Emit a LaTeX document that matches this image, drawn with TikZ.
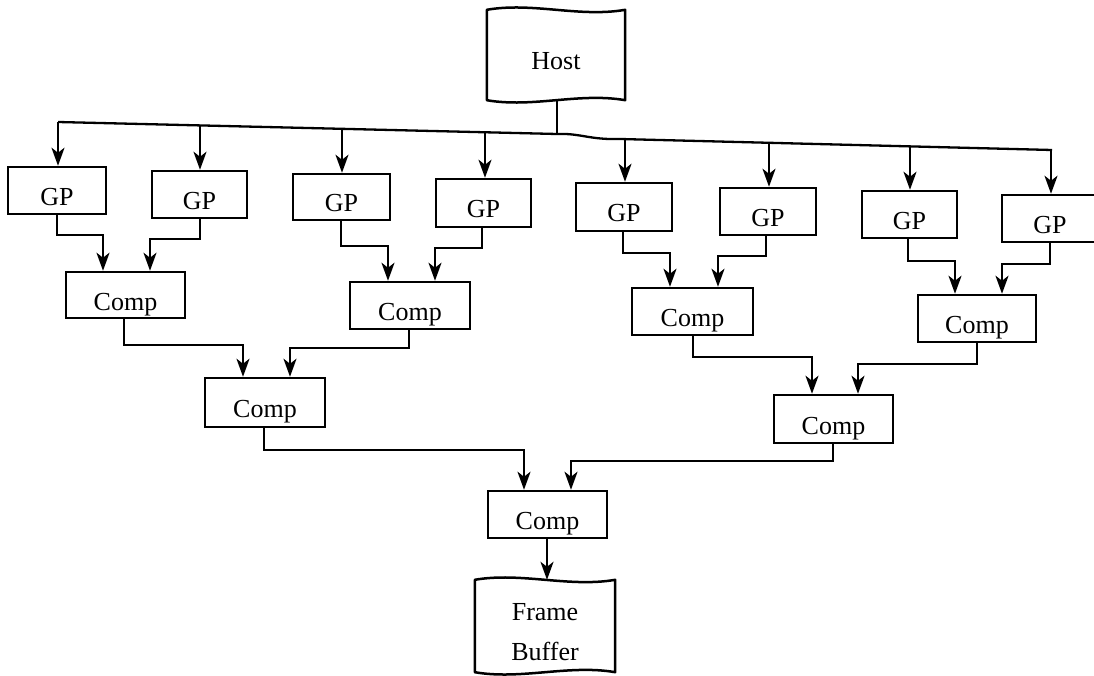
\documentclass[tikz,border=0pt]{standalone}
\usepackage{fontspec}
\setmainfont{Liberation Serif}
\usetikzlibrary{arrows.meta,calc}
\begin{document}
\begin{tikzpicture}[x=1pt,y=-1pt,
  box/.style={draw,line width=2.5pt,minimum width=96pt,minimum height=47pt,inner sep=0pt,
    text height=30pt,text depth=0pt,font=\fontsize{26}{30}\selectfont},
  comp/.style={box,minimum width=120pt},
  doc/.style={minimum width=138pt,minimum height=90pt,inner sep=0pt,
    font=\fontsize{26}{40}\selectfont,align=center,text depth=0pt},
  outline/.style={line width=2.5pt,line join=round},
  wire/.style={line width=2.3pt},
  arr/.style={wire,-{Stealth[length=18pt,width=13pt,inset=5pt]}}]
\fill[white] (0,0) rectangle (1094,676);
\useasboundingbox (0,0) rectangle (1094,676);

% host and frame buffer (document shapes)
\node[doc,text height=30pt] (host) at (556,55) {Host};
\draw[outline] (host.south west) -- (host.north west)
  .. controls +(46,-8) and +(-46,8) .. (host.north east)
  -- (host.south east)
  .. controls +(-46,-8) and +(46,8) .. (host.south west) -- cycle;

\node[doc,minimum width=140pt,minimum height=92pt,text height=68pt] (fb) at (545,626) {Frame\\Buffer};
\draw[outline] (fb.south west) -- (fb.north west)
  .. controls +(46,-8) and +(-46,8) .. (fb.north east)
  -- (fb.south east)
  .. controls +(-46,-8) and +(46,8) .. (fb.south west) -- cycle;

% GP boxes
\node[box,minimum width=98pt] (gp1) at (57,190.5) {GP};
\node[box,minimum width=95pt] (gp2) at (199.5,194.5) {GP};
\node[box,minimum width=97pt,minimum height=46pt] (gp3) at (341.5,197) {GP};
\node[box,minimum width=95pt,minimum height=48pt] (gp4) at (483.5,203) {GP};
\node[box,minimum width=96pt,minimum height=48pt] (gp5) at (624,207) {GP};
\node[box] (gp6) at (768,211.5) {GP};
\node[box,minimum width=95pt] (gp7) at (909.5,214.5) {GP};
\node[box] (gp8) at (1050,218.5) {GP};

% Comp boxes
\node[comp,minimum width=119pt,minimum height=46pt] (c1) at (125.5,295) {Comp};
\node[comp] (c2) at (410,305.5) {Comp};
\node[comp,minimum width=121pt] (c3) at (692.5,311.5) {Comp};
\node[comp,minimum width=118pt] (c4) at (977,318.5) {Comp};
\node[comp,minimum height=49pt] (c5) at (265,402.5) {Comp};
\node[comp,minimum width=119pt,minimum height=48pt] (c6) at (833.5,419) {Comp};
\node[comp,minimum width=119pt] (c7) at (547.5,514.5) {Comp};

% bus
\coordinate (busL) at (58,122);
\coordinate (busH) at (557,134);
\coordinate (busR) at (1052,150);
\draw[wire,line join=round] (busL) -- (busH)
  .. controls (580,133) and (590,140) .. (620,139) -- (busR);
\draw[wire] (busH |- host.south) -- (busH);

\coordinate (t1) at (58,122);
\coordinate (t2) at (200,126);
\coordinate (t3) at (342,130);
\coordinate (t4) at (485,133);
\coordinate (t5) at (625,139);
\coordinate (t6) at (769,142);
\coordinate (t7) at (910,146);
\coordinate (t8) at (1051,150);
\draw[arr] (t1) -- (t1 |- gp1.north);
\draw[arr] (t2) -- (t2 |- gp2.north);
\draw[arr] (t3) -- (t3 |- gp3.north);
\draw[arr] (t4) -- (t4 |- gp4.north);
\draw[arr] (t5) -- (t5 |- gp5.north);
\draw[arr] (t6) -- (t6 |- gp6.north);
\draw[arr] (t7) -- (t7 |- gp7.north);
\draw[arr] (t8) -- (t8 |- gp8.north);

% GP -> Comp
\draw[arr] (57,0 |- gp1.south) -- (57,235) -| (103,0 |- c1.north);
\draw[arr] (200,0 |- gp2.south) -- (200,239) -| (150,0 |- c1.north);
\draw[arr] (341,0 |- gp3.south) -- (341,246) -| (388,0 |- c2.north);
\draw[arr] (482,0 |- gp4.south) -- (482,248) -| (435,0 |- c2.north);
\draw[arr] (623,0 |- gp5.south) -- (623,253) -| (670,0 |- c3.north);
\draw[arr] (766,0 |- gp6.south) -- (766,256) -| (718,0 |- c3.north);
\draw[arr] (908,0 |- gp7.south) -- (908,261) -| (955,0 |- c4.north);
\draw[arr] (1050,0 |- gp8.south) -- (1050,264) -| (1002,0 |- c4.north);

% Comp -> Comp
\draw[arr] (124,0 |- c1.south) -- (124,345) -| (243,0 |- c5.north);
\draw[arr] (409,0 |- c2.south) -- (409,348) -| (290,0 |- c5.north);
\draw[arr] (693,0 |- c3.south) -- (693,357) -| (812,0 |- c6.north);
\draw[arr] (977,0 |- c4.south) -- (977,364) -| (858,0 |- c6.north);
\draw[arr] (264,0 |- c5.south) -- (264,450) -| (524,0 |- c7.north);
\draw[arr] (833,0 |- c6.south) -- (833,461) -| (571,0 |- c7.north);

% Comp -> Frame Buffer
\draw[arr] (547,0 |- c7.south) -- (547,0 |- fb.north);
\end{tikzpicture}
\end{document}
